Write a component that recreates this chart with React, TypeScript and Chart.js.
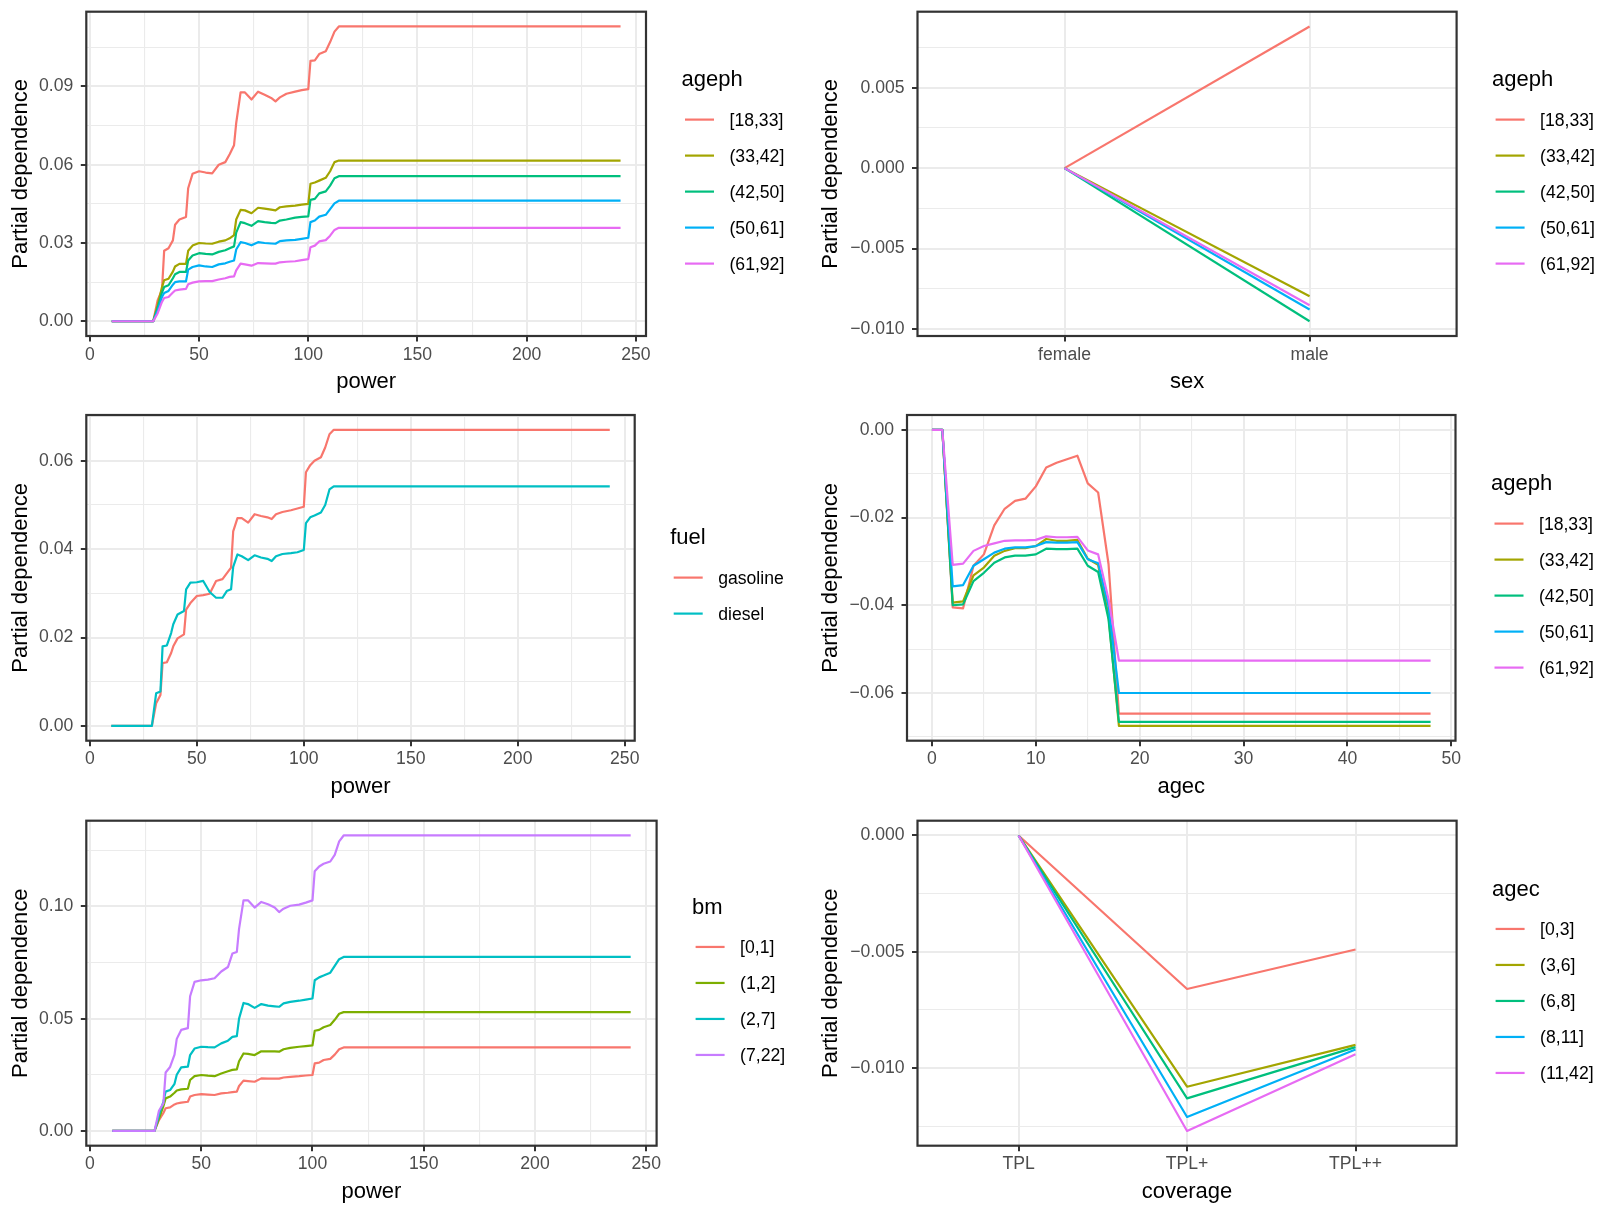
import { useEffect, useRef } from 'react';
import { Chart, registerables } from 'chart.js';

Chart.register(...registerables);

const FONT = '"Liberation Sans", Arial, Helvetica, sans-serif';
const TEXT = '#000000';
const TICK_TEXT = '#4D4D4D';
const FRAME = '#333333';
const GRID = '#EBEBEB';
const MINUS = '\u2212';

// Discrete hue palettes for 5, 2 and 4 groups
const HUE5 = ['#F8766D', '#A3A500', '#00BF7D', '#00B0F6', '#E76BF3'];
const HUE2 = ['#F8766D', '#00BFC4'];
const HUE4 = ['#F8766D', '#7CAE00', '#00BFC4', '#C77CFF'];

// Group levels
const agephLevels = ['[18,33]', '(33,42]', '(42,50]', '(50,61]', '(61,92]'];
const fuelLevels = ['gasoline', 'diesel'];
const bmLevels = ['[0,1]', '(1,2]', '(2,7]', '(7,22]'];
const agecLevels = ['[0,3]', '(3,6]', '(6,8]', '(8,11]', '(11,42]'];

// Axis ticks and categories
const powerTicks = [0, 50, 100, 150, 200, 250];
const agecTicks = [0, 10, 20, 30, 40, 50];
const sexCategories = ['female', 'male'];
const coverageCategories = ['TPL', 'TPL+', 'TPL++'];
const pdTicksPowerAgeph = [0, 0.03, 0.06, 0.09];
const pdTicksSex = [-0.01, -0.005, 0, 0.005];
const pdTicksPowerFuel = [0, 0.02, 0.04, 0.06];
const pdTicksAgec = [-0.06, -0.04, -0.02, 0];
const pdTicksPowerBm = [0, 0.05, 0.1];
const pdTicksCoverage = [-0.01, -0.005, 0];

// Power values at which the partial dependence is evaluated
const powerGrid = [10, 29, 31, 33, 34, 36, 38, 39, 41, 44, 45, 47, 50, 53, 56, 59, 62, 64, 66, 67, 69, 71, 74, 77, 80, 83, 85, 87, 90, 94, 97, 100, 101, 103, 105, 108, 110, 112, 114, 243];

// PD of power by ageph
const pdPowerAgeph18_33 = [0, 0, 0.008, 0.012, 0.027, 0.028, 0.031, 0.037, 0.039, 0.040, 0.051, 0.0565, 0.0575, 0.057, 0.0567, 0.060, 0.061, 0.064, 0.0675, 0.076, 0.0877, 0.0877, 0.085, 0.088, 0.0868, 0.0856, 0.0843, 0.0858, 0.0872, 0.088, 0.0886, 0.089, 0.0998, 0.100, 0.1024, 0.1035, 0.107, 0.111, 0.113, 0.113];
const pdPowerAgeph33_42 = [0, 0, 0.006, 0.013, 0.0157, 0.0163, 0.019, 0.021, 0.022, 0.022, 0.027, 0.029, 0.030, 0.0298, 0.0297, 0.0305, 0.031, 0.0318, 0.033, 0.039, 0.0427, 0.0425, 0.0414, 0.0435, 0.0432, 0.0428, 0.0425, 0.0437, 0.044, 0.0443, 0.0447, 0.045, 0.0527, 0.0532, 0.0539, 0.055, 0.0575, 0.061, 0.0616, 0.0616];
const pdPowerAgeph42_50 = [0, 0, 0.005, 0.011, 0.0131, 0.0138, 0.0165, 0.018, 0.0189, 0.0189, 0.0233, 0.0252, 0.0261, 0.0258, 0.0256, 0.0266, 0.0272, 0.028, 0.0287, 0.034, 0.038, 0.0376, 0.0366, 0.0384, 0.038, 0.0377, 0.0376, 0.0386, 0.039, 0.0397, 0.04, 0.0402, 0.0465, 0.0469, 0.049, 0.0498, 0.052, 0.0548, 0.0556, 0.0556];
const pdPowerAgeph50_61 = [0, 0, 0.004, 0.0093, 0.0108, 0.0116, 0.014, 0.015, 0.0153, 0.0153, 0.0198, 0.0208, 0.0214, 0.021, 0.0208, 0.0218, 0.0222, 0.0228, 0.0233, 0.0275, 0.0303, 0.030, 0.0291, 0.0303, 0.030, 0.0298, 0.0297, 0.0307, 0.031, 0.0312, 0.0316, 0.032, 0.038, 0.0386, 0.0401, 0.0408, 0.043, 0.0452, 0.0462, 0.0462];
const pdPowerAgeph61_92 = [0, 0, 0.003, 0.0074, 0.0089, 0.0093, 0.011, 0.0118, 0.0121, 0.0124, 0.0142, 0.0148, 0.0153, 0.0154, 0.0154, 0.016, 0.0165, 0.017, 0.0172, 0.0195, 0.0221, 0.0218, 0.0213, 0.0223, 0.0222, 0.0221, 0.0221, 0.0226, 0.0228, 0.023, 0.0234, 0.0238, 0.0284, 0.029, 0.0306, 0.0311, 0.0328, 0.035, 0.0358, 0.0358];

// PD of sex by ageph (female, male)
const pdSexAgeph18_33 = [0, 0.00881];
const pdSexAgeph33_42 = [0, -0.00796];
const pdSexAgeph42_50 = [0, -0.00952];
const pdSexAgeph50_61 = [0, -0.00879];
const pdSexAgeph61_92 = [0, -0.00852];

// PD of power by fuel
const pdPowerGasoline = [0, 0, 0.0051, 0.007, 0.0142, 0.0144, 0.0165, 0.018, 0.0198, 0.0207, 0.0263, 0.0278, 0.0294, 0.0296, 0.0299, 0.0328, 0.0332, 0.0345, 0.0358, 0.044, 0.047, 0.047, 0.046, 0.0479, 0.0475, 0.0472, 0.0468, 0.0479, 0.0484, 0.0488, 0.0492, 0.0496, 0.0574, 0.059, 0.060, 0.0608, 0.063, 0.066, 0.067, 0.067];
const pdPowerDiesel = [0, 0, 0.0074, 0.0078, 0.018, 0.0182, 0.021, 0.023, 0.0252, 0.026, 0.0309, 0.0324, 0.0325, 0.0328, 0.0303, 0.029, 0.029, 0.0305, 0.0309, 0.036, 0.0388, 0.0384, 0.0375, 0.0386, 0.0381, 0.0378, 0.0373, 0.0384, 0.0389, 0.0391, 0.0393, 0.0398, 0.0459, 0.0472, 0.0476, 0.0483, 0.050, 0.0535, 0.0542, 0.0542];

// Vehicle ages at which the partial dependence is evaluated
const agecGrid = [0, 1, 2, 3, 4, 5, 6, 7, 8, 9, 10, 11, 12, 13, 14, 15, 16, 17, 18, 48];

// PD of agec by ageph
const pdAgecAgeph18_33 = [0, 0, -0.0405, -0.0407, -0.031, -0.0284, -0.0218, -0.018, -0.0162, -0.0157, -0.0129, -0.0086, -0.0075, -0.0067, -0.0059, -0.0122, -0.0143, -0.0306, -0.0647, -0.0647];
const pdAgecAgeph33_42 = [0, 0, -0.0394, -0.0391, -0.0332, -0.0314, -0.0287, -0.0276, -0.027, -0.027, -0.0265, -0.0249, -0.0253, -0.0253, -0.0251, -0.0294, -0.0308, -0.0424, -0.0675, -0.0675];
const pdAgecAgeph42_50 = [0, 0, -0.040, -0.0398, -0.0345, -0.0326, -0.0303, -0.0291, -0.0287, -0.0287, -0.0284, -0.0271, -0.0272, -0.0272, -0.0271, -0.031, -0.0324, -0.0432, -0.0666, -0.0666];
const pdAgecAgeph50_61 = [0, 0, -0.0357, -0.0354, -0.031, -0.0295, -0.028, -0.0271, -0.0268, -0.0268, -0.0265, -0.0256, -0.0257, -0.0257, -0.0256, -0.0295, -0.0304, -0.0402, -0.060, -0.060];
const pdAgecAgeph61_92 = [0, 0, -0.0308, -0.0305, -0.0276, -0.0265, -0.0259, -0.0253, -0.0252, -0.0252, -0.0251, -0.0243, -0.0245, -0.0245, -0.0244, -0.0275, -0.0284, -0.0386, -0.0526, -0.0526];

// PD of power by bonus-malus level
const pdPowerBm0_1 = [0, 0, 0.0048, 0.008, 0.0101, 0.0105, 0.0118, 0.0122, 0.0126, 0.013, 0.0153, 0.016, 0.0164, 0.0162, 0.016, 0.0167, 0.017, 0.0173, 0.0175, 0.02, 0.0224, 0.0222, 0.0219, 0.0234, 0.0233, 0.0233, 0.0233, 0.0238, 0.0241, 0.0244, 0.0247, 0.0249, 0.0301, 0.0304, 0.0316, 0.0321, 0.034, 0.0364, 0.0372, 0.0372];
const pdPowerBm1_2 = [0, 0, 0.0055, 0.011, 0.0145, 0.0153, 0.017, 0.018, 0.0185, 0.0188, 0.0227, 0.0244, 0.0249, 0.0246, 0.0244, 0.0256, 0.0266, 0.0272, 0.0274, 0.031, 0.0345, 0.0343, 0.0338, 0.0355, 0.0354, 0.0354, 0.0353, 0.0364, 0.037, 0.0375, 0.0378, 0.0381, 0.0446, 0.045, 0.0462, 0.0472, 0.0495, 0.0522, 0.0529, 0.0529];
const pdPowerBm2_7 = [0, 0, 0.007, 0.013, 0.0175, 0.0182, 0.021, 0.025, 0.0283, 0.0286, 0.0338, 0.0367, 0.0375, 0.0373, 0.0372, 0.039, 0.0402, 0.0419, 0.0422, 0.05, 0.057, 0.0565, 0.0548, 0.0565, 0.0558, 0.0555, 0.0553, 0.0568, 0.0575, 0.058, 0.0585, 0.059, 0.0671, 0.0684, 0.0692, 0.0705, 0.0735, 0.0765, 0.0775, 0.0775];
const pdPowerBm7_22 = [0, 0, 0.009, 0.0123, 0.026, 0.0285, 0.034, 0.041, 0.045, 0.0458, 0.06, 0.0664, 0.0671, 0.0674, 0.068, 0.071, 0.073, 0.079, 0.0797, 0.09, 0.1027, 0.1027, 0.0995, 0.102, 0.101, 0.0995, 0.0975, 0.099, 0.1003, 0.1008, 0.1017, 0.1027, 0.1157, 0.1178, 0.119, 0.12, 0.123, 0.129, 0.1316, 0.1316];

// PD of coverage by agec (TPL, TPL+, TPL++)
const pdCoverageAgec0_3 = [0, -0.0066, -0.0049];
const pdCoverageAgec3_6 = [0, -0.0108, -0.0090];
const pdCoverageAgec6_8 = [0, -0.0113, -0.0091];
const pdCoverageAgec8_11 = [0, -0.0121, -0.0092];
const pdCoverageAgec11_42 = [0, -0.0127, -0.0094];

type Series = { label: string; color: string; xs: number[]; ys: number[] };
type Panel = {
  cell: number[]; // x, y, width, height of the canvas on the page
  area: number[]; // left, top, right, bottom of the plotting panel on the page
  xTitle: string;
  xTicks: number[];
  xCategories?: string[];
  yTicks: number[];
  yDigits: number;
  legendTitle: string;
  series: Series[];
};

const X_AXIS_H = 59;

const sexIdx = sexCategories.map((_, i) => i);
const coverageIdx = coverageCategories.map((_, i) => i);

const panels: Panel[] = [
  {
    cell: [0, 0, 810, 405],
    area: [86.3, 11.7, 646, 336],
    xTitle: 'power',
    xTicks: powerTicks,
    yTicks: pdTicksPowerAgeph,
    yDigits: 2,
    legendTitle: 'ageph',
    series: [pdPowerAgeph18_33, pdPowerAgeph33_42, pdPowerAgeph42_50, pdPowerAgeph50_61, pdPowerAgeph61_92].map((ys, i) => ({
      label: agephLevels[i], color: HUE5[i], xs: powerGrid, ys,
    })),
  },
  {
    cell: [810, 0, 809, 405],
    area: [917.5, 11.7, 1456.6, 336],
    xTitle: 'sex',
    xTicks: sexIdx,
    xCategories: sexCategories,
    yTicks: pdTicksSex,
    yDigits: 3,
    legendTitle: 'ageph',
    series: [pdSexAgeph18_33, pdSexAgeph33_42, pdSexAgeph42_50, pdSexAgeph50_61, pdSexAgeph61_92].map((ys, i) => ({
      label: agephLevels[i], color: HUE5[i], xs: sexIdx, ys,
    })),
  },
  {
    cell: [0, 405, 810, 405],
    area: [86.3, 415, 634.7, 740.7],
    xTitle: 'power',
    xTicks: powerTicks,
    yTicks: pdTicksPowerFuel,
    yDigits: 2,
    legendTitle: 'fuel',
    series: [pdPowerGasoline, pdPowerDiesel].map((ys, i) => ({
      label: fuelLevels[i], color: HUE2[i], xs: powerGrid, ys,
    })),
  },
  {
    cell: [810, 405, 809, 405],
    area: [907, 415, 1455.5, 740.7],
    xTitle: 'agec',
    xTicks: agecTicks,
    yTicks: pdTicksAgec,
    yDigits: 2,
    legendTitle: 'ageph',
    series: [pdAgecAgeph18_33, pdAgecAgeph33_42, pdAgecAgeph42_50, pdAgecAgeph50_61, pdAgecAgeph61_92].map((ys, i) => ({
      label: agephLevels[i], color: HUE5[i], xs: agecGrid, ys,
    })),
  },
  {
    cell: [0, 810, 810, 405],
    area: [86.3, 820.7, 656.6, 1145.7],
    xTitle: 'power',
    xTicks: powerTicks,
    yTicks: pdTicksPowerBm,
    yDigits: 2,
    legendTitle: 'bm',
    series: [pdPowerBm0_1, pdPowerBm1_2, pdPowerBm2_7, pdPowerBm7_22].map((ys, i) => ({
      label: bmLevels[i], color: HUE4[i], xs: powerGrid, ys,
    })),
  },
  {
    cell: [810, 810, 809, 405],
    area: [917.5, 820.7, 1456.6, 1145.7],
    xTitle: 'coverage',
    xTicks: coverageIdx,
    xCategories: coverageCategories,
    yTicks: pdTicksCoverage,
    yDigits: 3,
    legendTitle: 'agec',
    series: [pdCoverageAgec0_3, pdCoverageAgec3_6, pdCoverageAgec6_8, pdCoverageAgec8_11, pdCoverageAgec11_42].map((ys, i) => ({
      label: agecLevels[i], color: HUE5[i], xs: coverageIdx, ys,
    })),
  },
];

// 5% padding on each side of a continuous range
function expandRange(values: number[]): [number, number] {
  const lo = Math.min(...values);
  const hi = Math.max(...values);
  const pad = (hi - lo) * 0.05;
  return [lo - pad, hi + pad];
}

// Minor breaks halfway between major breaks (and half a step beyond the ends)
function minorBreaks(major: number[]): number[] {
  const out: number[] = [];
  const step = major[1] - major[0];
  out.push(major[0] - step / 2);
  for (let i = 0; i < major.length - 1; i++) out.push((major[i] + major[i + 1]) / 2);
  out.push(major[major.length - 1] + step / 2);
  return out;
}

function fmtNumber(v: number, digits: number): string {
  const s = Math.abs(v).toFixed(digits);
  return v < -1e-12 ? MINUS + s : s;
}

function buildAxis(opts: {
  min: number; max: number; major: number[]; minor: number[];
  label: (v: number) => string; title: string; isX: boolean; size: number;
}) {
  const { min, max, major, minor, label, title, isX, size } = opts;
  const eps = (max - min) * 1e-6;
  const inRange = (v: number) => v >= min - eps && v <= max + eps;
  const majorIn = major.filter(inRange);
  const values = [...majorIn, ...minor.filter(inRange)].sort((a, b) => a - b);
  const isMajor = (v: number) => majorIn.some((m) => Math.abs(m - v) <= eps * 10);
  return {
    type: 'linear',
    position: isX ? 'bottom' : 'left',
    min,
    max,
    bounds: 'data',
    afterBuildTicks: (scale: any) => {
      scale.ticks = values.map((v) => ({ value: v }));
    },
    afterFit: (scale: any) => {
      if (isX) scale.height = size;
      else scale.width = size;
      scale.paddingTop = 0;
      scale.paddingBottom = 0;
      scale.paddingLeft = 0;
      scale.paddingRight = 0;
    },
    border: { display: false },
    grid: {
      drawOnChartArea: true,
      drawTicks: true,
      tickLength: 5.5,
      color: GRID,
      lineWidth: (c: any) => (c.tick && isMajor(c.tick.value) ? 2 : 1.1),
      tickColor: (c: any) => (c.tick && isMajor(c.tick.value) ? FRAME : 'rgba(0,0,0,0)'),
      tickWidth: 2,
    },
    ticks: {
      autoSkip: false,
      maxRotation: 0,
      minRotation: 0,
      padding: isX ? 2.7 : 7.5,
      color: TICK_TEXT,
      font: { family: FONT, size: 17.6, lineHeight: 1.2 },
      callback: (v: number) => (isMajor(v) ? label(v) : ''),
    },
    title: {
      display: true,
      text: title,
      color: TEXT,
      font: { family: FONT, size: 22, lineHeight: 1.2 },
      padding: isX ? { top: 0, bottom: 0 } : { top: 7.8, bottom: 0 },
    },
  };
}

// Panel frame on top of the lines, and the group legend to the right of the panel
const panelDecor = {
  id: 'panelDecor',
  afterDatasetsDraw(chart: any) {
    const { ctx, chartArea: a } = chart;
    ctx.save();
    ctx.strokeStyle = FRAME;
    ctx.lineWidth = 2.2;
    ctx.strokeRect(a.left, a.top, a.right - a.left, a.bottom - a.top);
    ctx.restore();
  },
  afterDraw(chart: any, _args: any, opts: any) {
    const { ctx, chartArea: a } = chart;
    const items = chart.data.datasets;
    const n = items.length;
    const titleGap = 39.5;
    const rowGap = 36;
    const span = titleGap + rowGap * (n - 1);
    const titleY = (a.top + a.bottom) / 2 - 2 - span / 2;
    ctx.save();
    ctx.textBaseline = 'middle';
    ctx.textAlign = 'left';
    ctx.fillStyle = TEXT;
    ctx.font = `22px ${FONT}`;
    ctx.fillText(opts.title, a.right + 35.5, titleY);
    ctx.font = `17.6px ${FONT}`;
    items.forEach((d: any, i: number) => {
      const y = titleY + titleGap + rowGap * i;
      ctx.strokeStyle = d.borderColor;
      ctx.lineWidth = 2.2;
      ctx.lineCap = 'butt';
      ctx.beginPath();
      ctx.moveTo(a.right + 39, y);
      ctx.lineTo(a.right + 68, y);
      ctx.stroke();
      ctx.fillStyle = TEXT;
      ctx.fillText(d.label, a.right + 83.5, y + 1.5);
    });
    ctx.restore();
  },
};

function makeConfig(p: Panel): any {
  const [cx, cy, cw, ch] = p.cell;
  const [al, at, ar, ab] = p.area;
  const allX = p.series.flatMap((s) => s.xs);
  const allY = p.series.flatMap((s) => s.ys);
  const [xMin, xMax] = p.xCategories ? [-0.6, p.xCategories.length - 0.4] : expandRange(allX);
  const [yMin, yMax] = expandRange(allY);
  const n = p.series.length;

  const datasets = p.series.map((s, i) => ({
    label: s.label,
    data: s.xs.map((x, j) => ({ x, y: s.ys[j] })),
    borderColor: s.color,
    backgroundColor: s.color,
    borderWidth: 2.2,
    borderJoinStyle: 'round',
    borderCapStyle: 'butt',
    pointRadius: 0,
    pointHoverRadius: 0,
    tension: 0,
    fill: false,
    order: n - 1 - i,
  }));

  const cats = p.xCategories;
  const xAxis = buildAxis({
    min: xMin,
    max: xMax,
    major: p.xTicks,
    minor: cats ? [] : minorBreaks(p.xTicks),
    label: (v) => (cats ? cats[Math.round(v)] : String(Math.round(v))),
    title: p.xTitle,
    isX: true,
    size: X_AXIS_H,
  });
  const yAxis = buildAxis({
    min: yMin,
    max: yMax,
    major: p.yTicks,
    minor: minorBreaks(p.yTicks),
    label: (v) => fmtNumber(v, p.yDigits),
    title: 'Partial dependence',
    isX: false,
    size: al - cx,
  });

  return {
    type: 'line',
    data: { datasets },
    plugins: [panelDecor],
    options: {
      responsive: false,
      maintainAspectRatio: false,
      animation: false,
      events: [],
      layout: {
        padding: {
          left: 0,
          top: at - cy,
          right: cx + cw - ar,
          bottom: cy + ch - ab - X_AXIS_H,
        },
      },
      plugins: {
        legend: { display: false },
        tooltip: { enabled: false },
        title: { display: false },
        panelDecor: { title: p.legendTitle },
      },
      scales: { x: xAxis, y: yAxis },
    },
  };
}

function PanelChart({ panel }: { panel: Panel }) {
  const ref = useRef<HTMLCanvasElement | null>(null);
  useEffect(() => {
    if (!ref.current) return;
    const chart = new Chart(ref.current, makeConfig(panel));
    return () => chart.destroy();
  }, [panel]);
  const [x, y, w, h] = panel.cell;
  return (
    <canvas
      ref={ref}
      width={w}
      height={h}
      style={{ position: 'absolute', left: x, top: y, width: w, height: h }}
    />
  );
}

export default function App() {
  return (
    <div
      style={{
        position: 'absolute',
        left: 0,
        top: 0,
        width: 1619,
        height: 1215,
        background: '#ffffff',
        overflow: 'hidden',
      }}
    >
      {panels.map((p, i) => (
        <PanelChart key={i} panel={p} />
      ))}
    </div>
  );
}
